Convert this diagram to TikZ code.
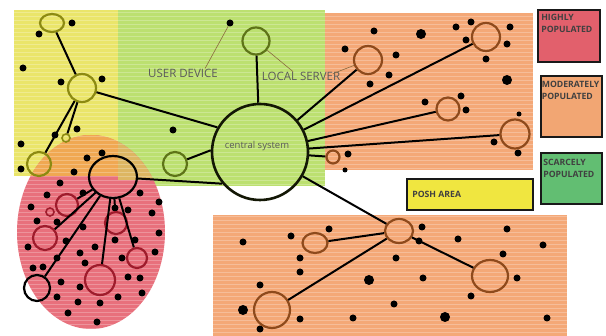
\documentclass[tikz,border=0pt]{standalone}
\usepackage{fontspec}
\setmainfont{Open Sans}
\usetikzlibrary{shapes.geometric}

\definecolor{yellowarea}{HTML}{EAE56A}
\definecolor{greenarea}{HTML}{BCE070}
\definecolor{orangearea}{HTML}{F4A877}
\definecolor{redarea}{HTML}{E8707C}
\definecolor{redyellow}{HTML}{F0A852}
\definecolor{redgreen}{HTML}{DDB662}
\definecolor{legred}{HTML}{E2606C}
\definecolor{legorange}{HTML}{F2A673}
\definecolor{leggreen}{HTML}{62BE72}
\definecolor{legyellow}{HTML}{F0E640}
\definecolor{olive}{HTML}{5E7418}
\definecolor{yolive}{HTML}{8C8A12}
\definecolor{brownc}{HTML}{8E4A1C}
\definecolor{darkred}{HTML}{9E1C2C}
\definecolor{labelgray}{HTML}{5A5A5A}
\definecolor{pointer}{HTML}{8A6A40}

\tikzset{
  netnode/.style={circle, draw, line width=2.2pt, inner sep=0pt},
  ovalnode/.style={ellipse, draw, line width=2.2pt, inner sep=0pt},
  dot/.style={circle, fill=black, inner sep=0pt, minimum size=7pt},
  bigdot/.style={dot, minimum size=10pt},
  smalldot/.style={dot, minimum size=5pt},
  link/.style={line width=2pt, black},
  pointerline/.style={line width=0.6pt, pointer},
  arealabel/.style={font=\fontsize{11.5}{13}\selectfont, text=labelgray, inner sep=0pt},
  legbox/.style={rectangle, draw=black!90, line width=1.8pt, inner sep=0pt},
  legtext/.style={font=\fontsize{8.7}{12}\selectfont\bfseries, text=black!75, align=left, inner sep=0pt, anchor=north west},
  hatch/.style={white, opacity=0.25, line width=0.7pt}
}

\begin{document}
\begin{tikzpicture}[x=1pt, y=-1pt]
\useasboundingbox (0,0) rectangle (606,336);
\fill[white] (0,0) rectangle (606,336);

% coloured zones
\fill[yellowarea] (14,10) rectangle (118,176);
\fill[greenarea] (118,10) rectangle (325,186);
\fill[orangearea] (325,13) rectangle (533,170);
\fill[orangearea] (213,215) rectangle (567,336);
\fill[redarea] (91,232) ellipse (74pt and 97pt);
% where the crowded zone meets the posh and device zones the colours mix
\begin{scope}
  \clip (91,232) ellipse (74pt and 97pt);
  \fill[redyellow] (14,10) rectangle (118,176);
  \fill[redgreen] (118,10) rectangle (325,180);
\end{scope}

% pencil strokes over the zones
\begin{scope}
  \clip (14,10) rectangle (533,186) (213,215) rectangle (567,336) (91,232) ellipse (74pt and 97pt);
  \foreach \yy in {12,16,...,336} \draw[hatch] (0,\yy) -- (606,\yy);
\end{scope}

% legend
\node[legbox, fill=legred, minimum width=62pt, minimum height=52pt] (lhigh) at (569,36) {};
\node[legtext] (thigh) at ([xshift=4pt,yshift=-5pt]lhigh.north west) {HIGHLY\\POPULATED};
\node[legbox, fill=legorange, minimum width=61pt, minimum height=61pt] (lmod) at (571.5,106.5) {};
\node[legtext] (tmod) at ([xshift=1.5pt,yshift=-6pt]lmod.north west) {MODERATELY\\POPULATED};
\node[legbox, fill=leggreen, minimum width=61pt, minimum height=51pt] (lscarce) at (571.5,178.5) {};
\node[legtext] (tscarce) at ([xshift=3pt,yshift=-7pt]lscarce.north west) {SCARCELY\\POPULATED};
\node[legbox, fill=legyellow, minimum width=126pt, minimum height=31pt] (lposh) at (470,194.5) {};
\node[legtext, anchor=west] (tposh) at ([xshift=6pt]lposh.west) {POSH AREA};

% scattered population dots
\foreach \x/\y [count=\i] in {
  72/23, 39/34, 23/68, 61/82, 102/79, 173/130, 77/129, 55/135, 21/144, 21/169,
  87/158, 102/153, 74/172, 60/183, 47/195, 31/207, 37/221, 57/222, 83/193, 83/227,
  66/241, 28/247, 57/258, 33/268, 43/267, 61/282, 80/287, 85/263, 80/253, 95/247,
  115/240, 115/208, 128/210, 140/193, 159/202, 152/213, 159/233, 135/240, 155/252, 122/258,
  128/277, 140/278, 142/293, 118/297, 100/303, 78/302, 57/297, 68/313, 97/322,
  374/31, 456/27, 471/22, 466/40, 510/27, 507/44, 486/59, 345/49, 396/55, 389/75,
  370/84, 425/102, 461/96, 466/110, 494/142, 518/153, 348/154,
  243/242, 291/236, 329/229, 300/258, 300/272, 260/285, 260/329, 300/319, 353/318,
  396/258, 394/304, 422/227, 419/241, 423/278, 458/239, 471/296, 507/229, 503/254,
  517/278, 543/245, 547/318}
  \node[dot] (d\i) at (\x,\y) {};
\node[dot] (ud) at (230,23) {};
\node[bigdot] (b1) at (421,34) {};
\node[bigdot] (b2) at (507,80) {};
\node[bigdot] (b3) at (369,280) {};
\node[bigdot] (b4) at (445,317) {};
\node[bigdot] (b5) at (243,310) {};
\node[smalldot] (s1) at (519,114) {};
\node[smalldot] (s2) at (345,170) {};

% central system and its devices
\node[netnode, draw=black!80!olive, line width=2.6pt, minimum size=96pt] (cs) at (260,152) {};
\node[font=\fontsize{9.5}{11}\selectfont, text=labelgray] (cslabel) at (257,146) {central system};
\node[netnode, draw=olive, minimum size=27pt] (gtop) at (256,41) {};
\node[netnode, draw=olive, minimum size=24pt] (gleft) at (175,164) {};

% posh area devices
\node[ovalnode, draw=yolive, minimum width=24pt, minimum height=18pt] (ytop) at (52,23) {};
\node[netnode, draw=yolive, minimum size=28pt] (ymid) at (82,88) {};
\node[netnode, draw=yolive, line width=1.6pt, minimum size=8pt] (ysmall) at (66,138) {};
\node[netnode, draw=yolive, minimum size=24pt] (yleft) at (39,164) {};

% highly populated cluster
\node[ovalnode, draw=black, minimum width=48pt, minimum height=42pt] (rhub) at (113,177) {};
\node[netnode, draw=darkred, minimum size=22pt] (r1) at (67,205) {};
\node[netnode, draw=darkred, line width=1.6pt, minimum size=8pt] (r2) at (50,212) {};
\node[netnode, draw=darkred, minimum size=24pt] (r3) at (45,238) {};
\node[netnode, draw=darkred, minimum size=22pt] (r4) at (116,223) {};
\node[netnode, draw=darkred, minimum size=20pt] (r5) at (137,258) {};
\node[netnode, draw=darkred, minimum size=30pt] (r6) at (100,280) {};
\node[netnode, draw=black, minimum size=26pt] (r7) at (37,288) {};

% moderately populated devices, upper zone
\node[netnode, draw=brownc, minimum size=28pt] (o1) at (368,60) {};
\node[netnode, draw=brownc, minimum size=28pt] (o2) at (486,37) {};
\node[netnode, draw=brownc, minimum size=23pt] (o3) at (448,109) {};
\node[netnode, draw=brownc, minimum size=29pt] (o4) at (515,134) {};
\node[netnode, draw=brownc, minimum size=13pt] (o5) at (333,157) {};

% moderately populated devices, lower zone
\node[ovalnode, draw=brownc, minimum width=28pt, minimum height=24pt] (ohub) at (399,231) {};
\node[ovalnode, draw=brownc, minimum width=25pt, minimum height=20pt] (ob1) at (315,243) {};
\node[ovalnode, draw=brownc, minimum width=36pt, minimum height=32pt] (ob2) at (490,276) {};
\node[netnode, draw=brownc, minimum size=36pt] (ob3) at (272,310) {};

% zone labels
\node[arealabel] (userlbl) at (183,73) {USER DEVICE};
\node[arealabel] (locallbl) at (301,76) {LOCAL SERVER};
\draw[pointerline] ([xshift=22pt]userlbl.north) -- (ud);
\draw[pointerline] ([xshift=-8pt]locallbl.north) -- (gtop);
\draw[pointerline] ([xshift=32pt,yshift=-2pt]locallbl.north) -- (o1);

% connections
\draw[link] (gtop) -- (cs);
\draw[link] (gleft) -- (cs.178);
\draw[link] (ymid) -- (cs.150);
\draw[link] (rhub) -- (cs.220);
\draw[link] (o1) -- (cs);
\draw[link] (o2) -- (cs);
\draw[link] (o3) -- (cs);
\draw[link] (o4) -- (cs);
\draw[link] (o5) -- (cs);
\draw[link] (ohub) -- (cs);
\draw[link] (ytop) -- (ymid);
\draw[link] (ymid) -- (ysmall);
\draw[link] (ymid) -- (yleft);
\foreach \r in {r1,r3,r4,r5,r6,r7} \draw[link] (rhub) -- (\r);
\foreach \o in {ob1,ob2,ob3} \draw[link] (ohub) -- (\o);
\end{tikzpicture}
\end{document}
